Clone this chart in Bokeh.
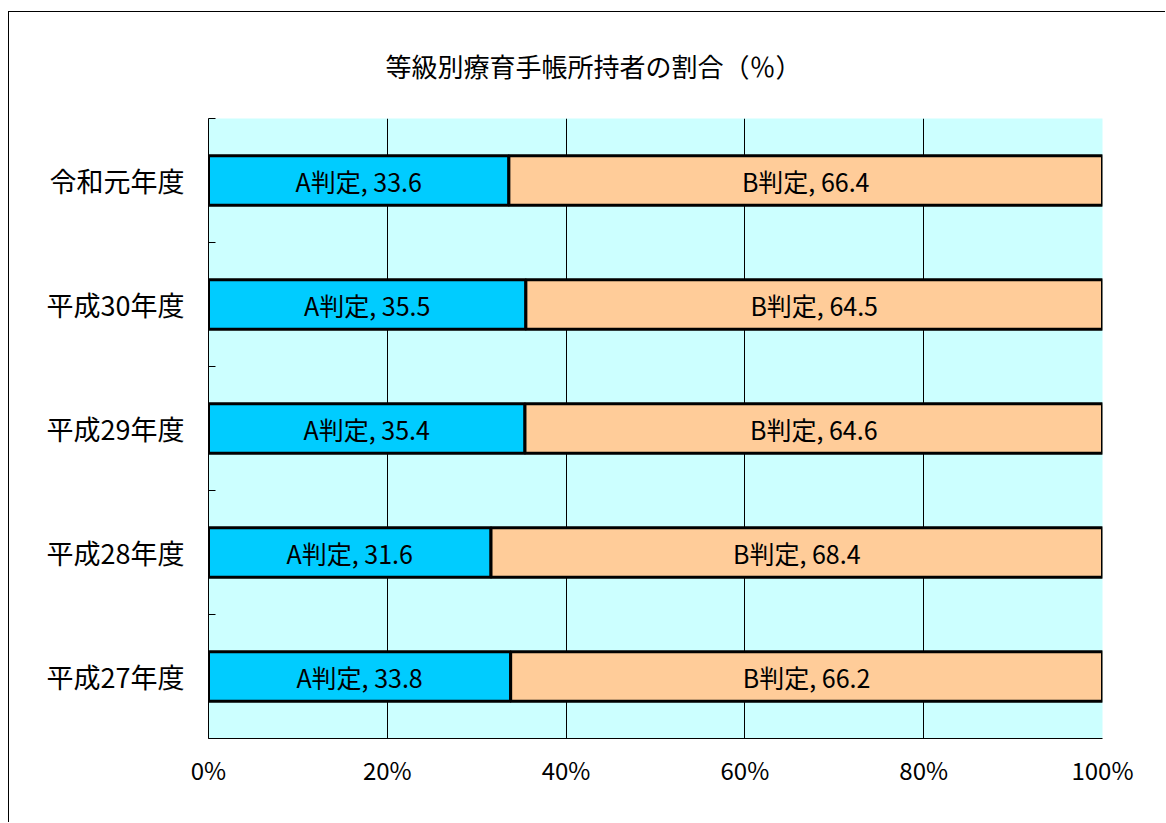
from bokeh.plotting import figure
from bokeh.models import ColumnDataSource, FixedTicker, Range1d
from bokeh.core.properties import value
from bokeh.embed import file_html
from bokeh.resources import INLINE

# ---- data ----
categories = ["平成27年度", "平成28年度", "平成29年度", "平成30年度", "令和元年度"]
a_values = [33.8, 31.6, 35.4, 35.5, 33.6]
b_values = [66.2, 68.4, 64.6, 64.5, 66.4]
series_names = ["A判定", "B判定"]
x_ticks = [0, 20, 40, 60, 80, 100]
title_text = "等級別療育手帳所持者の割合（％）"

FONT = "Noto Sans CJK JP"
n = len(categories)
ys = [i + 0.5 for i in range(n)]
b_right = [a + b for a, b in zip(a_values, b_values)]

src = ColumnDataSource(dict(
    y=ys,
    a0=[0] * n, a1=a_values,
    b0=a_values, b1=b_right,
    ax=[a / 2 for a in a_values],
    bx=[(a + r) / 2 for a, r in zip(a_values, b_right)],
    alab=[f"{series_names[0]}, {v}" for v in a_values],
    blab=[f"{series_names[1]}, {v}" for v in b_values],
))

p = figure(width=1157, height=811, x_range=Range1d(0, 100), y_range=Range1d(0, n),
           output_backend="svg", toolbar_location=None,
           min_border_left=199, min_border_right=64, min_border_top=106, min_border_bottom=85,
           background_fill_color="#CCFFFF", outline_line_color=None)
p.styles = {"margin-left": "8px", "margin-top": "11px",
            "border-left": "1px solid #000", "border-top": "1px solid #000"}

p.title.text = title_text
p.title.align = "left"
p.title.offset = 177
p.title.vertical_align = "top"
p.title.standoff = 66
p.title.text_font = FONT
p.title.text_font_size = "26px"
p.title.text_font_style = "normal"
p.title.text_color = "black"

p.hbar(y="y", left="a0", right="a1", height=0.4, fill_color="#00CCFF",
       line_color="black", line_width=3, source=src)
p.hbar(y="y", left="b0", right="b1", height=0.4, fill_color="#FFCC99",
       line_color="black", line_width=3, source=src)

p.text(x="ax", y="y", text="alab", text_align="center", text_baseline="middle",
       text_font=value(FONT), text_font_size="25px", text_color="black", source=src)
p.text(x="bx", y="y", text="blab", text_align="center", text_baseline="middle",
       text_font=value(FONT), text_font_size="25px", text_color="black", source=src)

# x axis
p.xaxis.ticker = FixedTicker(ticks=x_ticks)
p.xaxis.major_label_overrides = {t: f"{t}%" for t in x_ticks}
p.xaxis.major_tick_line_color = None
p.xaxis.minor_tick_line_color = None
p.xaxis.major_label_standoff = 7
p.xaxis.major_label_text_font = FONT
p.xaxis.major_label_text_font_size = "24px"
p.xaxis.major_label_text_color = "black"
p.xaxis.axis_line_color = "black"

# y axis
p.yaxis.ticker = FixedTicker(ticks=ys, minor_ticks=list(range(n + 1)))
p.yaxis.major_label_overrides = {y: c for y, c in zip(ys, categories)}
p.yaxis.major_tick_line_color = None
p.yaxis.minor_tick_in = 7
p.yaxis.minor_tick_out = 0
p.yaxis.minor_tick_line_color = "black"
p.yaxis.major_label_standoff = 18
p.yaxis.major_label_text_font = FONT
p.yaxis.major_label_text_font_size = "27px"
p.yaxis.major_label_text_color = "black"
p.yaxis.axis_line_color = "black"

# grid
p.xgrid.ticker = FixedTicker(ticks=x_ticks[1:-1])
p.xgrid.grid_line_color = "black"
p.xgrid.grid_line_width = 1
p.ygrid.grid_line_color = None

open("out.html", "w").write(file_html(p, INLINE))
